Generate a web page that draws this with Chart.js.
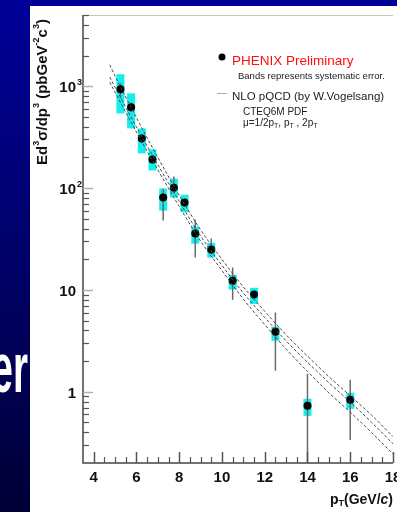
<!DOCTYPE html>
<html>
<head>
<meta charset="utf-8">
<script src="https://cdn.jsdelivr.net/npm/chart.js@4/dist/chart.umd.min.js"></script>
<style>
  html, body { margin: 0; padding: 0; width: 397px; height: 512px; overflow: hidden; }
  body {
    position: relative;
    background: linear-gradient(to bottom, #000098 0%, #00006e 45%, #000036 100%);
    font-family: "Liberation Sans", Arial, sans-serif;
  }
  #slideTitle {
    position: absolute; left: -92px; top: 333px; width: 120px;
    font-size: 70px; line-height: 70px; font-weight: bold; color: #fff; text-align: right;
    transform: scaleX(0.55); transform-origin: right center;
  }
  #panel { position: absolute; left: 30px; top: 6px; width: 380px; height: 506px; background: #fff; }
  canvas { display: block; }
</style>
</head>
<body>
<div id="slideTitle">er</div>
<div id="panel"><canvas id="c" width="380" height="506"></canvas></div>
<script>
// PHENIX preliminary points: pT (GeV/c) and invariant cross section (pb GeV^-2 c^3)
const pt       = [5.25, 5.75, 6.25, 6.75, 7.25, 7.75, 8.25, 8.75, 9.5, 10.5, 11.5, 12.5, 14, 16];
const xsec     = [933, 621, 307, 191, 81, 101, 72, 35.8, 24.9, 12.3, 9.0, 3.89, 0.728, 0.834];
// systematic band (cyan boxes)
const sysLow   = [541, 385, 219, 149, 60, 81, 58, 28.5, 20.8, 10.1, 7.3, 3.17, 0.58, 0.68];
const sysHigh  = [1309, 851, 385, 240, 99, 124, 86, 42, 29, 14.1, 10.5, 4.35, 0.853, 0.98];
// statistical error bars
const statLow  = [760, 560, 275, 175, 48, 88, 66, 20.8, 22.5, 8.0, 8.5, 1.61, 0.1, 0.337];
const statHigh = [1070, 690, 340, 210, 99, 130, 78, 49, 32, 16.6, 9.5, 6.0, 1.5, 1.31];

// NLO pQCD curves for three scale choices
const curveX   = [4.75, 5, 6, 7, 8, 9, 10, 11, 12, 13, 14, 15, 16, 17, 18];
const nloHalf  = [1622, 1259, 490, 200, 85.1, 38.9, 19.95, 10.7, 6.17, 3.63, 2.24, 1.41, 0.912, 0.589, 0.363];
const nloOne   = [1230, 977, 398, 170, 74.1, 33.9, 17.4, 9.33, 5.37, 3.16, 1.95, 1.23, 0.794, 0.501, 0.309];
const nloTwo   = [1096, 871, 355, 151, 66.1, 30.2, 15.5, 8.13, 4.57, 2.63, 1.585, 0.977, 0.631, 0.398, 0.245];

// axis ticks and labels
const xMajorTicks  = [4, 6, 8, 10, 12, 14, 16, 18];
const xMajorLabels = ['4', '6', '8', '10', '12', '14', '16', '18'];
const yDecadeTicks = [1, 10, 100, 1000];
const yDecadeBase  = ['1', '10', '10', '10'];
const yDecadeExp   = ['', '', '2', '3'];

const FONT = '"Liberation Sans", Arial, sans-serif';
const f = (w, s, st) => `${st || ''} ${w} ${s}px ${FONT}`.trim();

function drawRuns(ctx, runs, x, y, align) {
  let w = 0;
  runs.forEach(r => { ctx.font = r[1]; w += ctx.measureText(r[0]).width; });
  let cx = align === 'center' ? x - w / 2 : (align === 'right' ? x - w : x);
  ctx.textAlign = 'left';
  runs.forEach(r => {
    ctx.font = r[1];
    ctx.fillText(r[0], cx, y + (r[2] || 0));
    cx += ctx.measureText(r[0]).width;
  });
}

const decorations = {
  id: 'decorations',
  beforeDatasetsDraw(chart) {
    const { ctx, chartArea: a, scales: { x, y } } = chart;
    ctx.save();
    ctx.beginPath();
    ctx.rect(a.left, a.top, a.right - a.left, a.bottom - a.top);
    ctx.clip();
    // systematic bands
    ctx.fillStyle = '#14eeee';
    pt.forEach((p, i) => {
      const px = x.getPixelForValue(p);
      const y1 = y.getPixelForValue(sysHigh[i]);
      const y2 = y.getPixelForValue(sysLow[i]);
      ctx.fillRect(px - 4, y1, 8, y2 - y1);
    });
    // statistical error bars
    ctx.strokeStyle = '#6a6a6a';
    ctx.lineWidth = 1.5;
    pt.forEach((p, i) => {
      const px = x.getPixelForValue(p);
      ctx.beginPath();
      ctx.moveTo(px, y.getPixelForValue(statHigh[i]));
      ctx.lineTo(px, y.getPixelForValue(statLow[i]));
      ctx.stroke();
    });
    ctx.restore();
  },
  afterDraw(chart) {
    const { ctx, chartArea: a, scales: { x, y } } = chart;
    ctx.save();
    // frame
    ctx.strokeStyle = '#c4c4c4';
    ctx.lineWidth = 1;
    ctx.beginPath(); ctx.moveTo(a.left, a.top + 0.5); ctx.lineTo(a.right, a.top + 0.5); ctx.stroke();
    ctx.strokeStyle = '#444';
    ctx.lineWidth = 1.5;
    ctx.beginPath();
    ctx.moveTo(a.left, a.top); ctx.lineTo(a.left, a.bottom); ctx.lineTo(a.right, a.bottom);
    ctx.stroke();

    // y ticks (log, pointing inward)
    for (let d = -1; d <= 3; d++) {
      for (let m = 1; m <= 9; m++) {
        const v = m * Math.pow(10, d);
        if (v <= y.min || v > y.max) continue;
        const py = Math.round(y.getPixelForValue(v)) + 0.5;
        ctx.beginPath();
        if (m === 1) { ctx.strokeStyle = '#b0b0b0'; ctx.lineWidth = 1.5; ctx.moveTo(a.left, py); ctx.lineTo(a.left + 10, py); }
        else { ctx.strokeStyle = '#555'; ctx.lineWidth = 1.2; ctx.moveTo(a.left, py); ctx.lineTo(a.left + 6, py); }
        ctx.stroke();
      }
    }
    // x ticks
    ctx.strokeStyle = '#555';
    for (let v = 4; v <= 18.001; v += 0.5) {
      const px = Math.round(x.getPixelForValue(v)) + 0.5;
      const major = xMajorTicks.includes(v);
      ctx.lineWidth = major ? 1.5 : 1.2;
      ctx.beginPath();
      ctx.moveTo(px, a.bottom);
      ctx.lineTo(px, a.bottom - (major ? 11 : 6));
      ctx.stroke();
    }

    // tick labels
    ctx.fillStyle = '#111';
    ctx.textBaseline = 'middle';
    ctx.font = f('bold', 15);
    ctx.textAlign = 'center';
    xMajorTicks.forEach((v, i) => ctx.fillText(xMajorLabels[i], x.getPixelForValue(v), a.bottom + 15));
    yDecadeTicks.forEach((v, i) => {
      const py = y.getPixelForValue(v) + 2;
      ctx.font = f('bold', 15);
      ctx.textAlign = 'right';
      ctx.fillText(yDecadeBase[i], a.left - 7, py);
      if (yDecadeExp[i]) {
        ctx.font = f('bold', 9);
        ctx.textAlign = 'left';
        ctx.fillText(yDecadeExp[i], a.left - 6, py - 6);
      }
    });

    // axis titles
    const B15 = f('bold', 15), B9 = f('bold', 9);
    ctx.save();
    ctx.translate(13, 86);
    ctx.rotate(-Math.PI / 2);
    drawRuns(ctx, [
      ['Ed', B15], ['3', B9, -6], ['σ/dp', B15], ['3', B9, -6],
      [' (pbGeV', B15], ['-2', B9, -6], ['c', B15], ['3', B9, -6], [')', B15]
    ], 0, 0, 'center');
    ctx.restore();
    drawRuns(ctx, [
      ['p', f('bold', 14)], ['T', f('bold', 9), 4], ['(GeV/', f('bold', 14)],
      ['c', f('bold', 14, 'italic')], [')', f('bold', 14)]
    ], 363, 494, 'right');

    // legend
    ctx.fillStyle = '#000';
    ctx.beginPath(); ctx.arc(192, 51, 3.5, 0, Math.PI * 2); ctx.fill();
    ctx.fillStyle = '#ff1010';
    ctx.font = f('', 13.5);
    ctx.textAlign = 'left';
    ctx.fillText('PHENIX Preliminary', 202, 55);
    ctx.fillStyle = '#222';
    ctx.font = f('', 9.5);
    ctx.fillText('Bands represents systematic error.', 208, 70);
    ctx.strokeStyle = '#aaa'; ctx.lineWidth = 1;
    ctx.beginPath(); ctx.moveTo(187, 87.5); ctx.lineTo(197, 87.5); ctx.stroke();
    ctx.font = f('', 11.5);
    ctx.fillText('NLO pQCD (by W.Vogelsang)', 202, 91);
    ctx.font = f('', 10);
    ctx.fillText('CTEQ6M PDF', 213, 106);
    const R10 = f('', 10), R7 = f('', 7);
    drawRuns(ctx, [
      ['μ=1/2p', R10], ['T', R7, 3], [', p', R10], ['T', R7, 3], [' , 2p', R10], ['T', R7, 3]
    ], 213, 117, 'left');
    ctx.restore();
  }
};

const curveStyle = {
  showLine: true, pointRadius: 0, borderColor: '#4a4a4a', borderWidth: 1,
  borderDash: [3, 2], tension: 0.4, cubicInterpolationMode: 'monotone', fill: false
};

new Chart(document.getElementById('c'), {
  type: 'scatter',
  data: {
    datasets: [
      { ...curveStyle, label: 'mu = pT/2', data: curveX.map((v, i) => ({ x: v, y: nloHalf[i] })) },
      { ...curveStyle, label: 'mu = pT',   data: curveX.map((v, i) => ({ x: v, y: nloOne[i] })) },
      { ...curveStyle, label: 'mu = 2pT',  data: curveX.map((v, i) => ({ x: v, y: nloTwo[i] })) },
      {
        label: 'PHENIX Preliminary',
        data: pt.map((v, i) => ({ x: v, y: xsec[i] })),
        pointRadius: 4, backgroundColor: '#000', borderColor: '#000', borderWidth: 0, showLine: false
      }
    ]
  },
  options: {
    responsive: false,
    animation: false,
    devicePixelRatio: 1,
    layout: { padding: { left: 53, right: 17, top: 9, bottom: 49 } },
    plugins: { legend: { display: false }, tooltip: { enabled: false } },
    scales: {
      x: { type: 'linear', min: 3.5, max: 18, display: false },
      y: { type: 'logarithmic', min: 0.2, max: 5000, display: false }
    }
  },
  plugins: [decorations]
});
</script>
</body>
</html>
